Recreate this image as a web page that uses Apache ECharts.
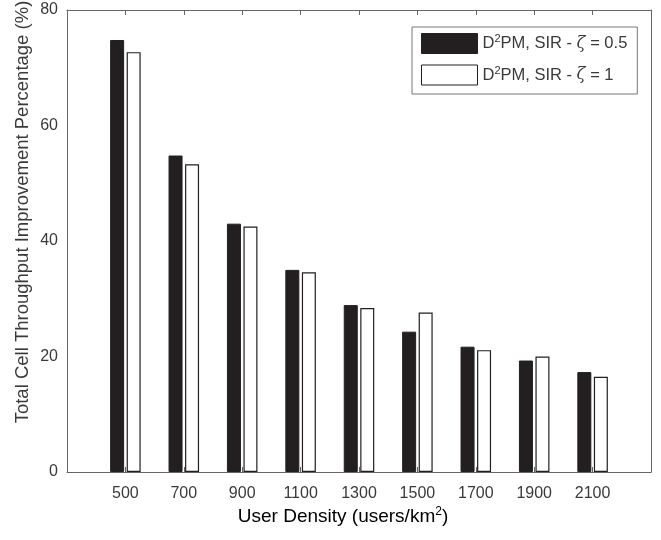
<!DOCTYPE html>
<html>
<head>
<meta charset="utf-8">
<script src="https://cdn.jsdelivr.net/npm/echarts@6/dist/echarts.min.js"></script>
<style>
  html, body { margin: 0; padding: 0; background: #fff; }
  #chart { width: 661px; height: 540px; }
</style>
</head>
<body>
<div id="chart"></div>
<script>
// user densities, padded with an empty slot at both ends (xlim 0..10)
var densities = ['', '500', '700', '900', '1100', '1300', '1500', '1700', '1900', '2100', ''];
var zetaHalf = [null, 74.8, 54.8, 43.0, 35.0, 28.9, 24.3, 21.7, 19.3, 17.3, null];
var zetaOne = [null, 72.7, 53.3, 42.5, 34.6, 28.4, 27.6, 21.1, 20.0, 16.5, null];
var yTicks = [0, 20, 40, 60, 80];

var txt = '#3a3a3a';
var axisCol = '#666';
var font = 'Liberation Sans';

var myChart = echarts.init(document.getElementById('chart'));
var legendRich = {
    n: { fontSize: 16.5, color: txt, fontFamily: font, lineHeight: 20 },
    sup: { fontSize: 11, color: txt, fontFamily: font, verticalAlign: 'top', lineHeight: 11, padding: [0, 0, 12, 0] },
    it: { fontSize: 16.5, color: txt, fontFamily: 'DejaVu Serif', fontStyle: 'italic', lineHeight: 20 }
};
var tickStyle = { inside: true, length: 5, lineStyle: { color: axisCol } };
var option = {
    animation: false,
    grid: { left: 67, right: 10, top: 10, bottom: 68 },
    legend: {
        left: 412, top: 27,
        orient: 'vertical',
        itemWidth: 56, itemHeight: 20, itemGap: 8,
        padding: [6, 10, 6, 9],
        borderColor: '#777', borderWidth: 1,
        icon: 'rect',
        data: [
            { name: 'half', itemStyle: { color: '#231f20', borderColor: '#231f20', borderWidth: 1 } },
            { name: 'one', itemStyle: { color: '#fff', borderColor: '#231f20', borderWidth: 1 } }
        ],
        formatter: function (name) {
            var z = name === 'half' ? '0.5' : '1';
            return '{n|D}{sup|2}{n|PM, SIR - }{it|ζ}{n| = ' + z + '}';
        },
        textStyle: { rich: legendRich }
    },
    xAxis: [
        {
            type: 'category', data: densities, boundaryGap: false,
            axisLine: { onZero: false, lineStyle: { color: axisCol, width: 1 } },
            axisTick: tickStyle,
            axisLabel: { color: txt, fontSize: 16, fontFamily: font, margin: 14 },
            splitLine: { show: false }
        },
        {
            type: 'category', data: densities, boundaryGap: false, position: 'top',
            axisLine: { onZero: false, lineStyle: { color: axisCol, width: 1 } },
            axisTick: tickStyle,
            axisLabel: { show: false }
        }
    ],
    yAxis: [
        {
            type: 'value', min: yTicks[0], max: yTicks[yTicks.length - 1], interval: 20,
            axisLine: { show: true, onZero: false, lineStyle: { color: axisCol, width: 1 } },
            axisTick: tickStyle,
            axisLabel: { color: txt, fontSize: 16, fontFamily: font, margin: 9 },
            splitLine: { show: false }
        },
        {
            type: 'value', min: 0, max: 80, interval: 20, position: 'right',
            axisLine: { show: true, onZero: false, lineStyle: { color: axisCol, width: 1 } },
            axisTick: tickStyle,
            axisLabel: { show: false },
            splitLine: { show: false }
        }
    ],
    graphic: [
        {
            type: 'text', x: 343, y: 517,
            style: {
                text: '{n|User Density (users/km}{sup|2}{n|)}',
                align: 'center', verticalAlign: 'middle',
                rich: {
                    n: { fontSize: 19, color: txt, fontFamily: font, lineHeight: 22 },
                    sup: { fontSize: 12, color: txt, fontFamily: font, verticalAlign: 'top', lineHeight: 12, padding: [0, 0, 12, 0] }
                }
            }
        },
        {
            type: 'text', x: 23, y: 212, rotation: Math.PI / 2,
            style: {
                text: 'Total Cell Throughput Improvement Percentage (%)',
                align: 'center', verticalAlign: 'middle',
                fontSize: 18.5, fill: txt, fontFamily: font
            }
        }
    ],
    series: [
        {
            name: 'half', type: 'bar', data: zetaHalf,
            barWidth: 14, barGap: '18%',
            itemStyle: { color: '#231f20', borderColor: '#231f20', borderWidth: 1 }
        },
        {
            name: 'one', type: 'bar', data: zetaOne,
            barWidth: 14, barGap: '18%',
            itemStyle: { color: '#fff', borderColor: '#231f20', borderWidth: 1.2 }
        }
    ]
};
myChart.setOption(option);
window.onresize = myChart.resize;
</script>
</body>
</html>
